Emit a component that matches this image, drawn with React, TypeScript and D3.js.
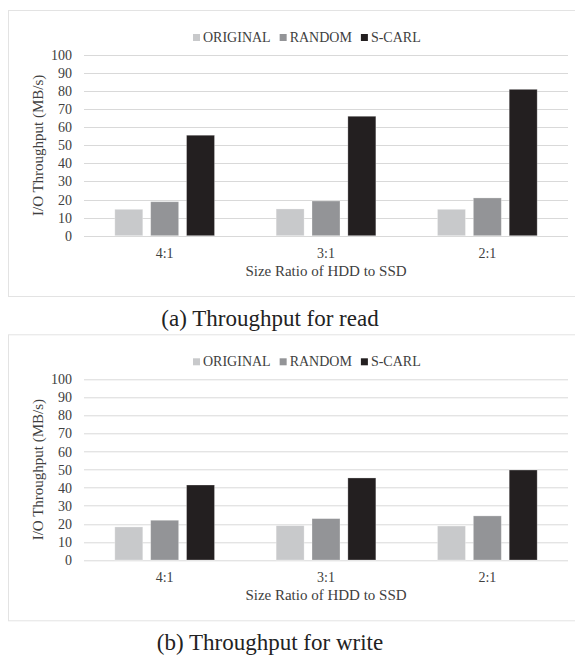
import React, { useRef, useEffect } from 'react';
import * as d3 from 'd3';

// Size ratio categories (x axis)
const ratios = ['4:1', '3:1', '2:1'];
const seriesNames = ['ORIGINAL', 'RANDOM', 'S-CARL'];
const seriesColors = ['#c8c9cb', '#939497', '#231f20'];
const yTicks = [0, 10, 20, 30, 40, 50, 60, 70, 80, 90, 100];

// read throughput (MB/s), one row per ratio: ORIGINAL, RANDOM, S-CARL
const readOriginal = [14.6, 14.8, 14.6];
const readRandom = [18.8, 19.2, 20.9];
const readScarl = [55.6, 66.1, 81.0];

// write throughput (MB/s)
const writeOriginal = [18.3, 19.0, 18.8];
const writeRandom = [22.0, 22.9, 24.4];
const writeScarl = [41.5, 45.4, 49.8];

const panels = [
  { caption: '(a) Throughput for read', series: [readOriginal, readRandom, readScarl] },
  { caption: '(b) Throughput for write', series: [writeOriginal, writeRandom, writeScarl] },
];

const W = 575;
const H = 655;
const FONT = '"Liberation Serif", "Times New Roman", serif';

export default function App() {
  const ref = useRef<SVGSVGElement>(null);

  useEffect(() => {
    const svg = d3.select(ref.current);
    svg.selectAll('*').remove();

    const x0 = d3.scaleBand<string>().domain(ratios).range([84, 568]).paddingInner(0.382).paddingOuter(0.191);
    const x1 = d3.scaleBand<string>().domain(seriesNames).range([0, x0.bandwidth()]).paddingInner(0.22);

    panels.forEach((panel, pi) => {
      const top = 10 + pi * 324.3;
      const g = svg.append('g').attr('transform', `translate(0,${top})`);

      // chart frame
      g.append('rect')
        .attr('x', 8.5).attr('y', 0.5)
        .attr('width', 580).attr('height', 286)
        .attr('fill', '#fff')
        .attr('stroke', '#e3e3e3');

      const y = d3.scaleLinear().domain([0, 100]).range([225.7, 45]);

      // gridlines
      g.append('g')
        .selectAll('line')
        .data(yTicks)
        .join('line')
        .attr('x1', 84).attr('x2', 568)
        .attr('y1', (d) => Math.round(y(d)) + 0.5)
        .attr('y2', (d) => Math.round(y(d)) + 0.5)
        .attr('stroke', '#d9d9d9')
        .attr('stroke-width', 1);

      // y tick labels
      const yAxis = g.append('g')
        .attr('transform', 'translate(72,0)')
        .call(d3.axisLeft(y).tickValues(yTicks).tickSize(0).tickPadding(0));
      yAxis.select('.domain').remove();
      yAxis.selectAll('text')
        .attr('font-family', FONT)
        .attr('font-size', 14)
        .attr('fill', '#404040');

      // bars
      ratios.forEach((r, ri) => {
        g.append('g')
          .selectAll('rect')
          .data(seriesNames.map((s, si) => ({ s, v: panel.series[si][ri], c: seriesColors[si] })))
          .join('rect')
          .attr('x', (d) => x0(r)! + x1(d.s)!)
          .attr('y', (d) => y(d.v))
          .attr('width', x1.bandwidth())
          .attr('height', (d) => y(0) - y(d.v))
          .attr('fill', (d) => d.c)
          .attr('stroke', '#ffffff')
          .attr('stroke-opacity', 0.35)
          .attr('stroke-width', 0.8);
      });

      // x category labels
      const xAxis = g.append('g')
        .attr('transform', `translate(0,${y(0)})`)
        .call(d3.axisBottom(x0).tickSize(0).tickPadding(12));
      xAxis.select('.domain').remove();
      xAxis.selectAll('text')
        .attr('font-family', FONT)
        .attr('font-size', 14)
        .attr('fill', '#404040');

      // axis titles
      g.append('text')
        .attr('x', 326).attr('y', 266)
        .attr('text-anchor', 'middle')
        .attr('font-family', FONT).attr('font-size', 15)
        .attr('fill', '#404040')
        .text('Size Ratio of HDD to SSD');

      g.append('text')
        .attr('transform', `translate(43,${(y(0) + y(100)) / 2}) rotate(-90)`)
        .attr('text-anchor', 'middle')
        .attr('font-family', FONT).attr('font-size', 15)
        .attr('fill', '#404040')
        .text('I/O Throughput (MB/s)');

      // legend
      const legend = g.append('g').attr('transform', 'translate(193,24)');
      let lx = 0;
      seriesNames.forEach((s, si) => {
        const item = legend.append('g').attr('transform', `translate(${lx},0)`);
        item.append('rect').attr('x', 0).attr('y', 0).attr('width', 7).attr('height', 7).attr('fill', seriesColors[si]);
        const t = item.append('text')
          .attr('x', 10).attr('y', 8)
          .attr('font-family', FONT).attr('font-size', 14)
          .attr('fill', '#404040')
          .text(s);
        const len = (t.node() as SVGTextElement).getComputedTextLength();
        lx += 10 + len + 9;
      });

      // caption under the panel
      svg.append('text')
        .attr('x', 270).attr('y', top + 316)
        .attr('text-anchor', 'middle')
        .attr('font-family', FONT).attr('font-size', 23)
        .attr('fill', '#222')
        .text(panel.caption);
    });
  }, []);

  return (
    <svg
      ref={ref}
      width={W}
      height={H}
      viewBox={`0 0 ${W} ${H}`}
      style={{ position: 'absolute', left: 0, top: 0, background: '#fff', display: 'block' }}
    />
  );
}
